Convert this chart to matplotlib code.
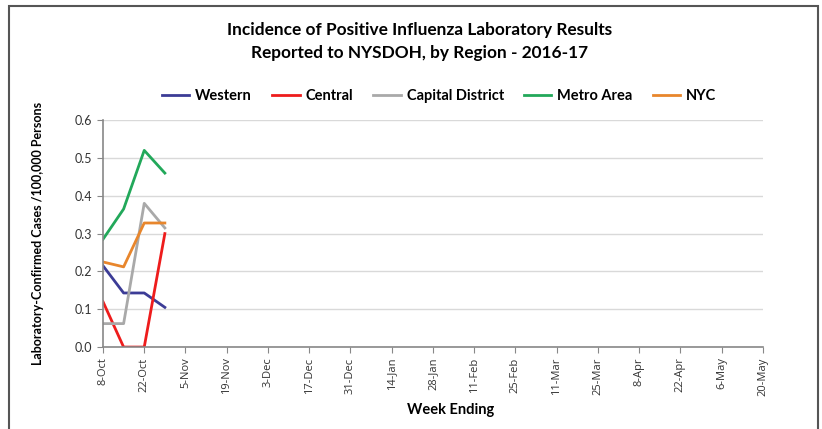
import numpy as np
import matplotlib.pyplot as plt
from matplotlib.patches import Rectangle

plt.rcParams['font.family'] = ['Lato', 'DejaVu Sans']

# week ending labels (every 2 weeks), x in weeks since 8-Oct
tick_labels = ['8-Oct', '22-Oct', '5-Nov', '19-Nov', '3-Dec', '17-Dec', '31-Dec',
               '14-Jan', '28-Jan', '11-Feb', '25-Feb', '11-Mar', '25-Mar',
               '8-Apr', '22-Apr', '6-May', '20-May']
weeks = [0, 1, 2, 3]

western = [0.215, 0.143, 0.143, 0.105]
central = [0.12, 0.0, 0.0, 0.30]
capital = [0.062, 0.062, 0.38, 0.315]
metro = [0.285, 0.365, 0.52, 0.46]
nyc = [0.225, 0.212, 0.328, 0.328]

series = [('Western', western, '#3c3c96'),
          ('Central', central, '#ee1c1c'),
          ('Capital District', capital, '#a9a9a9'),
          ('Metro Area', metro, '#22a85a'),
          ('NYC', nyc, '#e8862c')]

fig = plt.figure(figsize=(8.22, 4.29), dpi=100)
ax = fig.add_axes([0.1253, 0.191, 0.8027, 0.529])

for name, vals, col in series:
    ax.plot(weeks, vals, color=col, lw=2, label=name)

ax.set_xlim(0, 32)
ax.set_ylim(0, 0.6)
ax.set_xticks(np.arange(0, 33, 2))
ax.set_xticklabels(tick_labels, rotation=90, fontsize=8, family=['Open Sans', 'DejaVu Sans'],
                   color='#333333')
ax.set_yticks(np.arange(0, 0.61, 0.1))
ax.set_yticklabels(['%.1f' % v for v in np.arange(0, 0.61, 0.1)], fontsize=9, color='#333333')
ax.grid(axis='y', color='#d9d9d9', lw=1)
ax.set_axisbelow(True)
for s in ['top', 'right']:
    ax.spines[s].set_visible(False)
for s in ['left', 'bottom']:
    ax.spines[s].set_color('#888888')
    ax.spines[s].set_linewidth(1.2)
ax.tick_params(axis='both', colors='#888888', length=4, labelcolor='#333333')

ax.set_xlabel('Week Ending', fontsize=10.5, fontweight='bold')
ax.xaxis.set_label_coords(0.527, -0.245)
ax.set_ylabel('Laboratory-Confirmed Cases /100,000 Persons', fontsize=9, fontweight='bold',
              labelpad=22)

fig.text(0.511, 0.930, 'Incidence of Positive Influenza Laboratory Results',
         ha='center', va='center', fontsize=12.4, fontweight='bold')
fig.text(0.511, 0.876, 'Reported to NYSDOH, by Region - 2016-17',
         ha='center', va='center', fontsize=12.4, fontweight='bold')

fig.legend(loc='center', bbox_to_anchor=(0.534, 0.776), ncol=5, frameon=False,
           prop={'weight': 'bold', 'size': 10.5}, handlelength=1.9,
           columnspacing=1.37, handletextpad=0.4)

fig.patches.append(Rectangle((9 / 822, -0.05), 809 / 822, 1 - 6 / 429 + 0.05,
                             transform=fig.transFigure, fill=False,
                             edgecolor='#555555', lw=1.5))

fig.savefig('out.png', dpi=100)
